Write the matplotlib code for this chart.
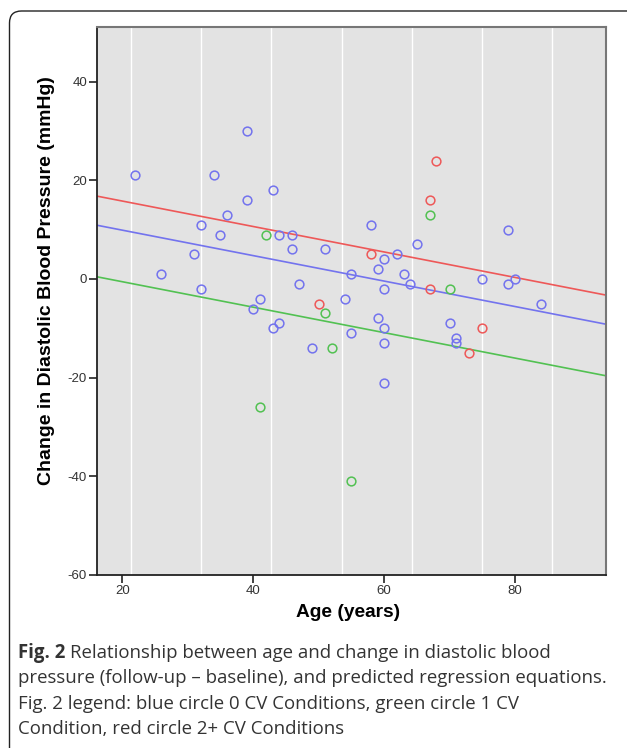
import matplotlib
matplotlib.use("Agg")
import matplotlib.pyplot as plt
from matplotlib.patches import FancyBboxPatch
from matplotlib.transforms import IdentityTransform

plt.rcParams["axes.unicode_minus"] = False

# Points (age in years, change in DBP in mmHg)
age_0cv = [22, 26, 31, 32, 32, 34, 35, 36, 39, 39, 40, 41, 43, 43, 44, 44, 46, 46,
           47, 49, 51, 54, 55, 55, 58, 59, 59, 60, 60, 60, 60, 60, 62, 63, 64, 65,
           70, 71, 71, 75, 79, 79, 80, 84]
dbp_0cv = [21, 1, 5, 11, -2, 21, 9, 13, 30, 16, -6, -4, 18, -10, 9, -9, 9, 6,
           -1, -14, 6, -4, 1, -11, 11, 2, -8, 4, -2, -10, -13, -21, 5, 1, -1, 7,
           -9, -12, -13, 0, 10, -1, 0, -5]

age_1cv = [41, 42, 51, 52, 55, 67, 70]
dbp_1cv = [-26, 9, -7, -14, -41, 13, -2]

age_2cv = [50, 58, 67, 67, 68, 73, 75]
dbp_2cv = [-5, 5, 16, -2, 24, -15, -10]

# predicted regression equations (common slope, one intercept per group)
slope = -0.258
intercepts = [15.05, 4.6, 20.95]

colors = ["#7373ee", "#52c152", "#ee5858"]
x_range = [16.1, 93.9]
grid_x = [21.3, 32.0, 42.7, 53.5, 64.2, 74.9, 85.6]

fig = plt.figure(figsize=(6.27, 7.48), dpi=100)
ax = fig.add_axes([0.1542, 0.2313, 0.8123, 0.7322])
ax.set_facecolor("#e3e3e3")

for gx in grid_x:
    ax.axvline(gx, color="white", linewidth=1.0, zorder=1)

groups = [(age_0cv, dbp_0cv), (age_1cv, dbp_1cv), (age_2cv, dbp_2cv)]
for (xs, ys), b, c in zip(groups, intercepts, colors):
    ax.plot([x_range[0], x_range[1]],
            [b + slope * x_range[0], b + slope * x_range[1]],
            color=c, linewidth=1.2, zorder=2)
for (xs, ys), c in zip(groups, colors):
    ax.plot(xs, ys, linestyle="none", marker="o", markersize=6.3,
            markerfacecolor="none", markeredgecolor=c, markeredgewidth=1.1, zorder=3)

ax.set_xlim(x_range)
ax.set_ylim(-60, 51)
ax.set_xticks([20, 40, 60, 80])
ax.set_yticks([40, 20, 0, -20, -40, -60])

for s in ["left", "bottom"]:
    ax.spines[s].set_color("#222222")
    ax.spines[s].set_linewidth(1.3)
for s in ["top", "right"]:
    ax.spines[s].set_color("#777777")
    ax.spines[s].set_linewidth(1.5)

ax.tick_params(direction="out", length=6, width=1.2, color="#222222",
               labelsize=9.5, labelcolor="#333333", pad=1)
for lab in ax.get_xticklabels() + ax.get_yticklabels():
    lab.set_family("Liberation Sans")

ax.set_xlabel("Age (years)", fontsize=13.8, fontweight="bold",
              family="Liberation Sans")
ax.set_ylabel("Change in Diastolic Blood Pressure (mmHg)", fontsize=14,
              fontweight="bold", family="Liberation Sans")
ax.xaxis.set_label_coords(0.494, -0.053)
ax.yaxis.set_label_coords(-0.082, 0.537)

# rounded frame around the figure panel (right and bottom run off the page)
frame = FancyBboxPatch((9.5, -40), 640, 748 - 11 + 40,
                       boxstyle="round,pad=0,rounding_size=12",
                       transform=IdentityTransform(), facecolor="none",
                       edgecolor="#222222", linewidth=1.0)
fig.patches.append(frame)

# caption
cap_font = "Open Sans"
cap_size = 13.4
cap_color = "#333333"
x0 = 18 / 627
line_y = [653, 678, 704, 729]
renderer = fig.canvas.get_renderer()
t = fig.text(x0, 1 - line_y[0] / 748, "Fig. 2", fontsize=cap_size, fontweight="bold",
             family=cap_font, color=cap_color, va="center")
bb = t.get_window_extent(renderer)
fig.text(bb.x1 / 627 + 5 / 627, 1 - line_y[0] / 748,
         "Relationship between age and change in diastolic blood",
         fontsize=cap_size, family=cap_font, color=cap_color, va="center")
rest = ["pressure (follow-up \u2013 baseline), and predicted regression equations.",
        "Fig. 2 legend: blue circle 0 CV Conditions, green circle 1 CV",
        "Condition, red circle 2+ CV Conditions"]
for ly, txt in zip(line_y[1:], rest):
    fig.text(x0, 1 - ly / 748, txt, fontsize=cap_size, family=cap_font,
             color=cap_color, va="center")

fig.savefig("out.png", dpi=100)
